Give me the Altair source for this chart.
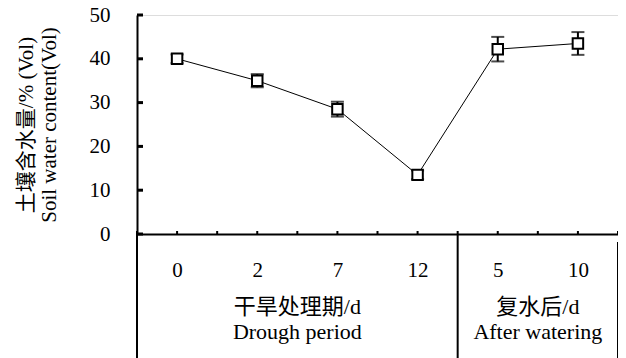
import altair as alt
import pandas as pd

days = ["0", "2", "7", "12", "5", "10"]
means = [40.0, 35.0, 28.5, 13.5, 42.2, 43.5]
errs = [1.0, 1.5, 1.7, 1.0, 2.8, 2.6]
group_labels = ["干旱处理期/d\nDrough period", "复水后/d\nAfter watering"]
group_centers = [4, 10]
separators = [0, 8]
y_ticks = [0, 10, 20, 30, 40, 50]
x_ticks = list(range(13))

FONT = "Liberation Serif, Noto Sans CJK SC"
W, H = 481, 219

df = pd.DataFrame({
    "pos": [2 * i + 1 for i in range(len(days))],
    "day": days,
    "mean": means,
    "lo": [m - e for m, e in zip(means, errs)],
    "hi": [m + e for m, e in zip(means, errs)],
})
gdf = pd.DataFrame({"pos": group_centers, "label": group_labels})
sdf = pd.DataFrame({"pos": separators})
ytdf = pd.DataFrame({"v": y_ticks})
xtdf = pd.DataFrame({"pos": x_ticks})

label_expr = "{" + ",".join(f"'{2*i+1}':'{d}'" for i, d in enumerate(days)) + "}[datum.value]"

xscale = alt.Scale(domain=[0, 12], nice=False, zero=False)
yscale = alt.Scale(domain=[0, 50], nice=False)

x_main = alt.X("pos:Q", scale=xscale, axis=alt.Axis(
    values=[1, 3, 5, 7, 9, 11], labelExpr=label_expr, ticks=False, grid=False,
    labelFont=FONT, labelFontSize=21, labelColor="black", labelPadding=25,
    domainColor="black", domainWidth=2, title=None))
y_main = alt.Y("mean:Q", scale=yscale, axis=alt.Axis(
    values=y_ticks, ticks=False, grid=False, domainColor="black", domainWidth=2,
    labelFont=FONT, labelFontSize=21, labelColor="black", labelPadding=27,
    title=["土壤含水量/% (Vol)", "Soil water content(Vol)"], titleFont=FONT,
    titleFontSize=21, titleFontWeight="normal", titleColor="black",
    titleLineHeight=23, titlePadding=30))

line = alt.Chart(df).mark_line(color="black", strokeWidth=1).encode(x=x_main, y=y_main)
bars = alt.Chart(df).mark_rule(color="black", strokeWidth=2).encode(
    x="pos:Q", y="lo:Q", y2="hi:Q")
cap_lo = alt.Chart(df).mark_tick(color="black", thickness=2, size=13, orient="horizontal").encode(
    x="pos:Q", y="lo:Q")
cap_hi = alt.Chart(df).mark_tick(color="black", thickness=2, size=13, orient="horizontal").encode(
    x="pos:Q", y="hi:Q")
pts = alt.Chart(df).mark_point(shape="square", filled=True, fill="white", stroke="black",
                               strokeWidth=2, size=110, opacity=1).encode(x="pos:Q", y="mean:Q")

seps = alt.Chart(sdf).mark_rule(color="black", strokeWidth=2).encode(
    x="pos:Q", y=alt.value(H), y2=alt.value(H + 140))
right_line = alt.Chart(pd.DataFrame({"pos": [12]})).mark_rule(color="black", strokeWidth=2).encode(
    x="pos:Q", y=alt.value(H + 8), y2=alt.value(H + 140))

glabels = alt.Chart(gdf).mark_text(font=FONT, fontSize=22, color="black", lineBreak="\n",
                                   baseline="top", lineHeight=25, align="center").encode(
    x="pos:Q", y=alt.value(H + 63), text="label:N")

# inward tick marks
ytick_marks = alt.Chart(ytdf).mark_rule(color="black", strokeWidth=3).encode(
    y="v:Q", x=alt.value(0), x2=alt.value(6))
xtick_marks = alt.Chart(xtdf).mark_rule(color="black", strokeWidth=2).encode(
    x="pos:Q", y=alt.value(H - 3), y2=alt.value(H))

chart = alt.layer(line, bars, cap_lo, cap_hi, pts, seps, right_line, glabels,
                  ytick_marks, xtick_marks).properties(
    width=W, height=H,
    autosize=alt.AutoSizeParams(type="none"),
    padding={"left": 129, "top": 7, "right": 0, "bottom": 124},
).configure_view(stroke=None).configure(background="white")

chart.save("out.html", embed_options={"renderer": "svg", "actions": False})
